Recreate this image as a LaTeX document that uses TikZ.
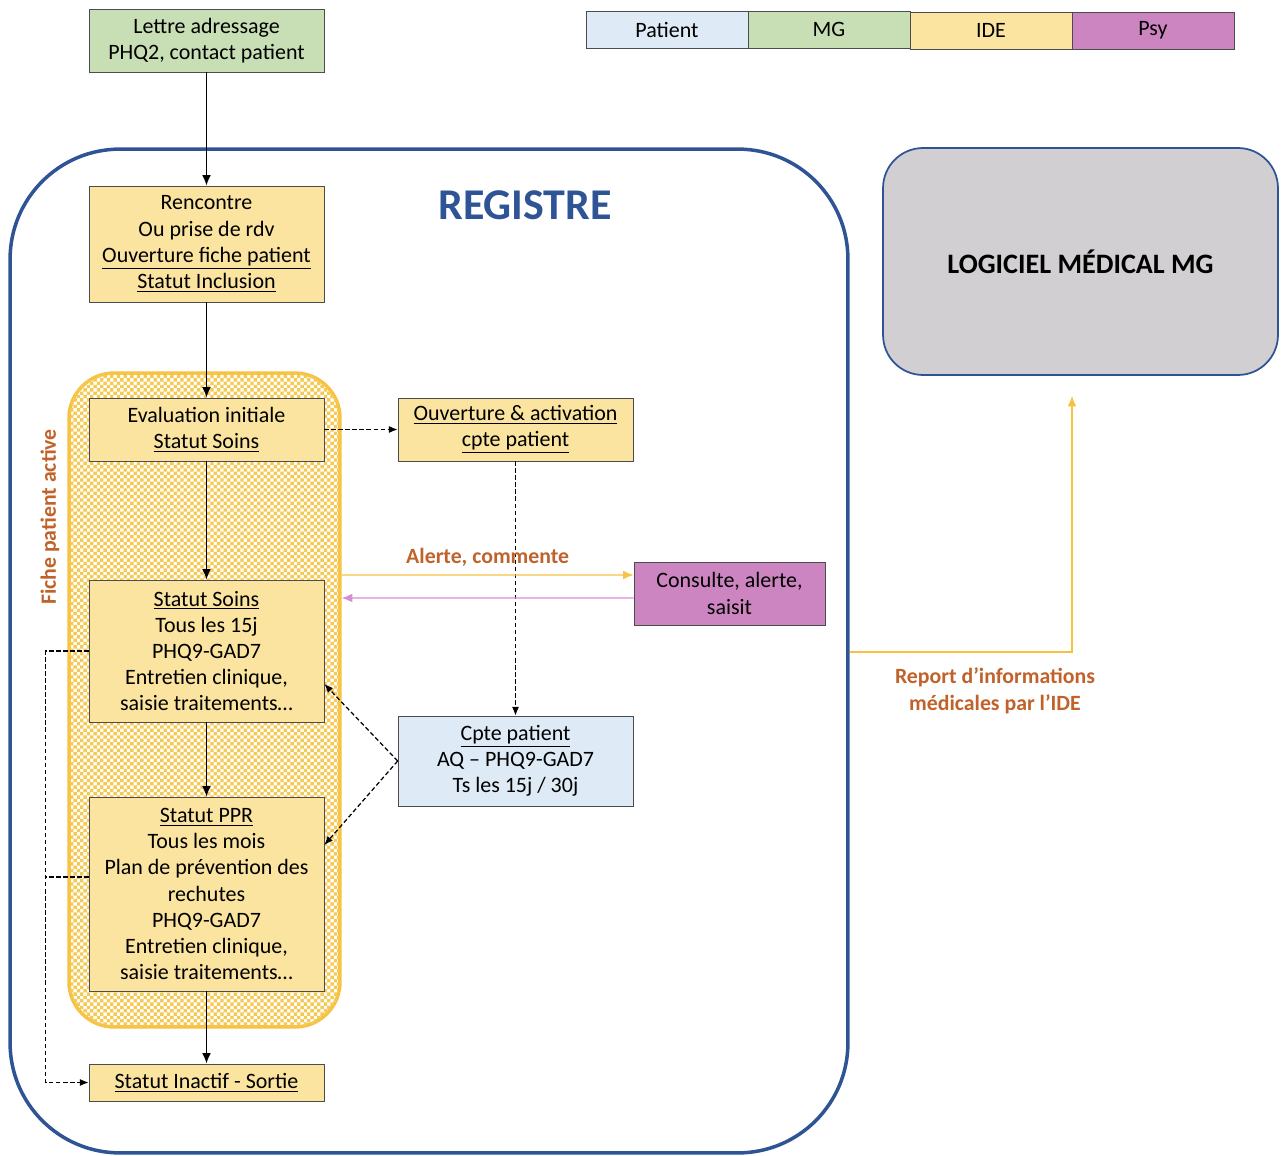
\documentclass[tikz,border=0pt]{standalone}
\usepackage{fontspec}
\setmainfont{Carlito}
\usetikzlibrary{arrows.meta,positioning,patterns}
\definecolor{patientc}{HTML}{DEEAF6}
\definecolor{mgc}{HTML}{C8DFB5}
\definecolor{idec}{HTML}{FBE4A0}
\definecolor{psyc}{HTML}{CC85C0}
\definecolor{logc}{HTML}{D2CFD2}
\definecolor{regblue}{HTML}{2F5496}
\definecolor{ideline}{HTML}{F7C242}
\definecolor{psyline}{HTML}{D88ED2}
\definecolor{labelc}{HTML}{C0622A}
\definecolor{checkc}{HTML}{F6C953}
% fine checkerboard for the active patient file
\pgfdeclarepatternformonly{finecheck}{\pgfqpoint{-1pt}{-1pt}}{\pgfqpoint{5pt}{5pt}}{\pgfqpoint{3.8pt}{3.8pt}}{
  \pgfpathrectangle{\pgfqpoint{0pt}{0pt}}{\pgfqpoint{1.9pt}{1.9pt}}
  \pgfpathrectangle{\pgfqpoint{1.9pt}{1.9pt}}{\pgfqpoint{1.9pt}{1.9pt}}
  \pgfusepath{fill}}

\begin{document}
\begin{tikzpicture}[x=0.02cm, y=-0.02cm,
    box/.style={draw=gray!60!black, fill=idec, minimum width=4.7cm, align=center, inner sep=2pt, font=\fontsize{12.5}{14.9}\selectfont},
    legend/.style={draw=gray!60!black, minimum width=3.24cm, minimum height=0.74cm, font=\fontsize{12.5}{14}\selectfont},
    flow/.style={-{Latex[length=6pt,width=5pt]}, line width=0.9pt},
    link/.style={-{Latex[length=5pt,width=4pt]}, dashed, dash pattern=on 2.5pt off 1.5pt, line width=0.7pt},
    note/.style={font=\fontsize{12.4}{15.2}\selectfont\bfseries, text=labelc, align=center}
]
    \useasboundingbox (0,0) rectangle (1282,1156);

    % Registre frame
    \node[draw=regblue, line width=2pt, rounded corners=2.2cm, minimum width=16.76cm, minimum height=20.08cm] (registre) at (429,651) {};
    \node[font=\fontsize{25}{28}\selectfont\bfseries, text=regblue] (regtitle) at (525,205) {REGISTRE};

    % Fiche patient active (checkered area)
    \node[draw=ideline, line width=2pt, rounded corners=0.9cm, fill=white, minimum width=5.42cm, minimum height=13.08cm] (fiche) at (204.5,700) {};
    \fill[pattern=finecheck, pattern color=checkc, rounded corners=0.85cm] ([shift={(2,2)}]fiche.north west) rectangle ([shift={(-2,-2)}]fiche.south east);
    \node[note, rotate=90] (fichelabel) at (50,517) {Fiche patient active};

    % Legend
    \node[legend, fill=patientc] (lpatient) at (667,29.5) {Patient};
    \node[legend, fill=mgc] (lmg) at (829,29.5) {MG};
    \node[legend, fill=idec] (lide) at (991,30.5) {IDE};
    \node[legend, fill=psyc] (lpsy) at (1153,30.5) {Psy};

    % Steps
    \node[box, fill=mgc, minimum height=1.26cm] (lettre) at (206.5,40.5) {Lettre adressage\\PHQ2, contact patient};
    \node[box, minimum height=2.32cm] (rencontre) at (206.5,244) {Rencontre\\Ou prise de rdv\\\underline{Ouverture fiche patient}\\\underline{Statut Inclusion}};
    \node[box, minimum height=1.26cm] (evaluation) at (206.5,429.5) {Evaluation initiale\\\underline{Statut Soins}};
    \node[box, minimum height=1.26cm] (ouverture) at (515.5,429.5) {\underline{Ouverture \& activation}\\\underline{cpte patient}};
    \node[box, minimum height=2.84cm] (soins) at (206.5,651) {\underline{Statut Soins}\\Tous les 15j\\PHQ9-GAD7\\Entretien clinique,\\saisie traitements\dots};
    \node[box, minimum height=3.88cm] (ppr) at (206.5,894) {\underline{Statut PPR}\\Tous les mois\\Plan de prévention des\\rechutes\\PHQ9-GAD7\\Entretien clinique,\\saisie traitements\dots};
    \node[box, minimum height=0.74cm] (inactif) at (206.5,1082.5) {\underline{Statut Inactif - Sortie}};
    \node[box, fill=psyc, minimum width=3.82cm, minimum height=1.26cm] (consulte) at (729.5,593.5) {Consulte, alerte,\\saisit};
    \node[box, fill=patientc, minimum height=1.8cm] (cpte) at (515.5,761) {\underline{Cpte patient}\\AQ -- PHQ9-GAD7\\Ts les 15j / 30j};

    % Logiciel
    \node[draw=regblue, line width=1pt, fill=logc, rounded corners=0.8cm, minimum width=7.9cm, minimum height=4.54cm, font=\fontsize{16}{19}\selectfont\bfseries] (logiciel) at (1080.5,261.5) {LOGICIEL MÉDICAL MG};

    % Main flow
    \draw[flow] (lettre) -- (rencontre);
    \draw[flow] (rencontre) -- (evaluation);
    \draw[flow] (evaluation) -- (soins);
    \draw[flow] (soins) -- (ppr);
    \draw[flow] (ppr) -- (inactif);

    % Patient account
    \draw[link] (evaluation) -- (ouverture);
    \draw[link] (ouverture) -- (cpte);
    \draw[link] (cpte.west) -- ([yshift=-0.66cm]soins.east);
    \draw[link] (cpte.west) -- ([yshift=0.98cm]ppr.east);

    % Exit
    \draw[link] (soins.west) -- ++(-43,0) |- (inactif.west);
    \draw[link, -] ([yshift=0.34cm]ppr.west) -- ++(-43,0);

    % Psy exchanges
    \draw[-{Latex[length=6pt,width=5pt]}, ideline, line width=0.8pt] (fiche.east |- 0,575) -- node[note, above=1pt] {Alerte, commente} ([yshift=0.37cm]consulte.west);
    \draw[-{Latex[length=6pt,width=5pt]}, psyline, line width=0.8pt] ([yshift=-0.09cm]consulte.west) -- (fiche.east |- 0,598);

    % Report to MG software
    \draw[-{Latex[length=6pt,width=5pt]}, ideline, line width=0.8pt] (registre.east |- 0,652) -| ([xshift=-0.17cm,yshift=-0.4cm]logiciel.south);
    \node[note] (report) at (995,691) {Report d’informations\\médicales par l’IDE};
\end{tikzpicture}
\end{document}
